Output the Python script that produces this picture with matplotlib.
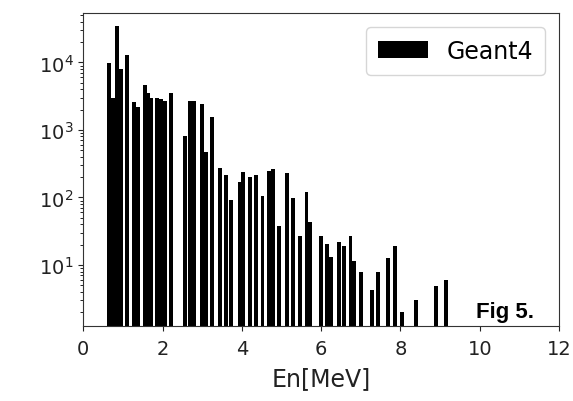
import matplotlib
matplotlib.use("Agg")
import matplotlib.pyplot as plt
import numpy as np

# neutron energy bins [MeV] and counts
energy = [0.65, 0.75, 0.85, 0.95, 1.11, 1.29, 1.39, 1.55, 1.64, 1.72,
          1.86, 1.96, 2.05, 2.22, 2.57, 2.70, 2.80, 2.99, 3.09, 3.25,
          3.44, 3.59, 3.73, 3.94, 4.04, 4.21, 4.36, 4.52, 4.69, 4.79,
          4.94, 5.14, 5.30, 5.47, 5.63, 5.72, 5.99, 6.15, 6.25, 6.44,
          6.57, 6.74, 6.84, 7.00, 7.28, 7.44, 7.69, 7.86, 8.05, 8.40,
          8.90, 9.16]
counts = [9800, 2950, 35000, 8000, 13000, 2600, 2200, 4600, 3500, 3000,
          3000, 2900, 2700, 3500, 800, 2700, 2700, 2400, 470, 1570,
          270, 215, 92, 168, 240, 200, 215, 104, 250, 260,
          37.5, 230, 97, 27, 120, 44, 27, 20.5, 13, 22,
          19, 27, 11.6, 7.9, 4.2, 7.9, 12.6, 19, 2.0, 3.06,
          4.9, 6.0]
xticks = [0, 2, 4, 6, 8, 10, 12]

fig = plt.figure(figsize=(5.73, 4.02), dpi=100)
ax = fig.add_axes([0.1454, 0.1873, 0.8302, 0.7779])

ax.bar(energy, counts, width=0.1, color="black", label="Geant4")
ax.set_yscale("log")
ax.set_xlim(0, 12)
ax.set_ylim(1.26, 5.4e4)
ax.set_xticks(xticks)
ax.tick_params(labelsize=14, colors="#222222")
ax.tick_params(axis="x", pad=6)
for s in ax.spines.values():
    s.set_color("#333333")
ax.set_xlabel("En[MeV]", fontsize=17, labelpad=6, color="#222222")

ax.legend(loc="upper right", fontsize=17, borderaxespad=0.6,
          handlelength=2.1, borderpad=0.5)

ax.text(0.947, 0.028, "Fig 5.", transform=ax.transAxes, ha="right",
        va="baseline", fontsize=16, fontweight="bold",
        family="Liberation Sans")

fig.savefig("out.png", dpi=100)
